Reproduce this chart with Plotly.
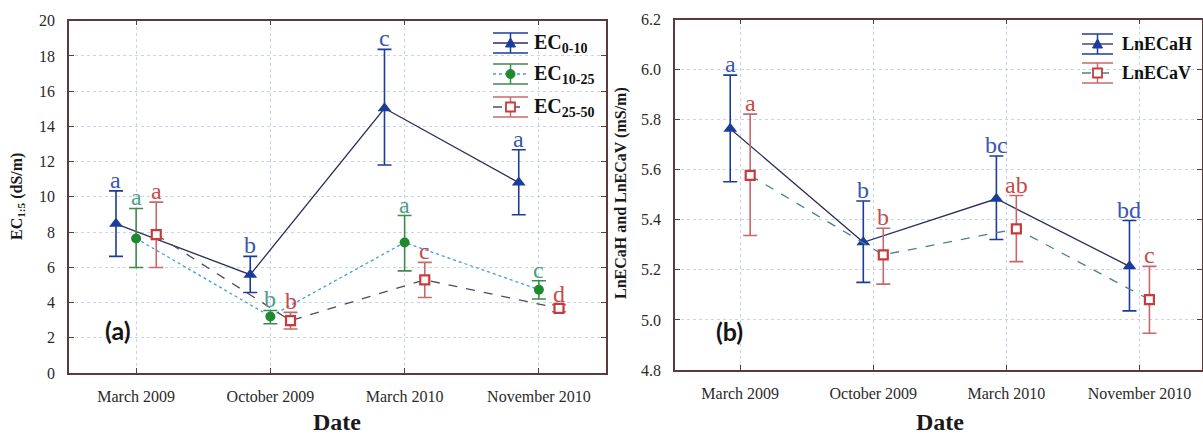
import plotly.graph_objects as go

W, H = 1203, 437

# ---------------- data ----------------
dates = ["March 2009", "October 2009", "March 2010", "November 2010"]

# Panel (a): EC1:5 (dS/m) by soil depth, mean with confidence interval bounds
ec_0_10 = [8.47, 5.58, 15.03, 10.81]
ec_0_10_hi = [10.34, 6.62, 18.37, 12.67]
ec_0_10_lo = [6.62, 4.57, 11.81, 8.98]
ec_0_10_grp = ["a", "b", "c", "a"]

ec_10_25 = [7.64, 3.21, 7.41, 4.73]
ec_10_25_hi = [9.34, 3.55, 8.94, 5.24]
ec_10_25_lo = [5.99, 2.80, 5.80, 4.20]
ec_10_25_grp = ["a", "b", "a", "c"]

ec_25_50 = [7.85, 2.97, 5.29, 3.67]
ec_25_50_hi = [9.70, 3.44, 6.28, 3.88]
ec_25_50_lo = [5.99, 2.50, 4.29, 3.48]
ec_25_50_grp = ["a", "b", "c", "d"]

# Panel (b): log apparent conductivity, horizontal and vertical modes
ln_ecah = [5.764, 5.310, 5.484, 5.214]
ln_ecah_hi = [5.978, 5.475, 5.655, 5.397]
ln_ecah_lo = [5.552, 5.150, 5.321, 5.036]
ln_ecah_grp = ["a", "b", "bc", "bd"]

ln_ecav = [5.577, 5.260, 5.364, 5.081]
ln_ecav_hi = [5.822, 5.366, 5.497, 5.214]
ln_ecav_lo = [5.337, 5.143, 5.233, 4.947]
ln_ecav_grp = ["a", "b", "ab", "c"]

# ---------------- styling ----------------
SERIF = "Liberation Serif, Times New Roman, serif"
FRAME = "#5a3a3a"
GRID = "#c6d4e4"

BLUE = "#1c3c9c"
BLUE_TXT = "#3a56b0"
NAVY = "#2b2d5c"
GREEN = "#1e8a2e"
GREEN_ERR = "#3f8a4c"
GREEN_TXT = "#4c9e8a"
SKY = "#3f9fd8"
RED = "#c63c3c"
RED_ERR = "#c86868"
RED_TXT = "#c84a4a"
DASH_A = "#4d4d60"
DASH_B = "#4f7f8f"

fig = go.Figure()
annotations = []
shapes = []


def add_series(xa, ya, offset, vals, hi, lo, groups, symbol, mcolor, mfill,
               msize, mline, lcolor, ldash, ecolor, tcolor):
    xs = [i + offset for i in range(len(vals))]
    fig.add_trace(go.Scatter(
        x=xs, y=vals, xaxis=xa, yaxis=ya, mode="lines+markers",
        line=dict(color=lcolor, width=1.3, dash=ldash),
        marker=dict(symbol=symbol, size=msize, color=mfill,
                    line=dict(color=mcolor, width=mline)),
        error_y=dict(type="data", symmetric=False,
                     array=[h - v for h, v in zip(hi, vals)],
                     arrayminus=[v - l for v, l in zip(vals, lo)],
                     color=ecolor, thickness=1.6, width=7),
        showlegend=False, hoverinfo="skip"))
    for x, h, g in zip(xs, hi, groups):
        annotations.append(dict(
            x=x, y=h, xref=xa, yref=ya, text=g, showarrow=False,
            yanchor="bottom", xanchor="center", yshift=-4,
            font=dict(family=SERIF, size=24, color=tcolor)))


# panel (a)
add_series("x", "y", -0.15, ec_0_10, ec_0_10_hi, ec_0_10_lo, ec_0_10_grp,
           "triangle-up", BLUE, BLUE, 12, 0, NAVY, "solid", BLUE, BLUE_TXT)
add_series("x", "y", 0.0, ec_10_25, ec_10_25_hi, ec_10_25_lo, ec_10_25_grp,
           "circle", GREEN, GREEN, 10, 0, SKY, "dot", GREEN_ERR, GREEN_TXT)
add_series("x", "y", 0.15, ec_25_50, ec_25_50_hi, ec_25_50_lo, ec_25_50_grp,
           "square", RED, "white", 9, 2.2, DASH_A, "dash", RED_ERR, RED_TXT)

# panel (b)
add_series("x2", "y2", -0.075, ln_ecah, ln_ecah_hi, ln_ecah_lo, ln_ecah_grp,
           "triangle-up", BLUE, BLUE, 12, 0, NAVY, "solid", BLUE, BLUE_TXT)
add_series("x2", "y2", 0.075, ln_ecav, ln_ecav_hi, ln_ecav_lo, ln_ecav_grp,
           "square", RED, "white", 9, 2.2, DASH_B, "dash", RED_ERR, RED_TXT)


def px(x, y):
    return x / W, 1 - y / H


def hline(x0, x1, y, color, width=1.5, dash="solid"):
    a, b = px(x0, y)
    c, _ = px(x1, y)
    shapes.append(dict(type="line", xref="paper", yref="paper",
                       x0=a, x1=c, y0=b, y1=b,
                       line=dict(color=color, width=width, dash=dash)))


def vline(x, y0, y1, color, width=1.5):
    a, b = px(x, y0)
    _, d = px(x, y1)
    shapes.append(dict(type="line", xref="paper", yref="paper",
                       x0=a, x1=a, y0=b, y1=d,
                       line=dict(color=color, width=width)))


def key_marker(kind, cx, cy, color, fill, r):
    if kind == "triangle":
        pts = [px(cx - r, cy + r * 0.8), px(cx + r, cy + r * 0.8), px(cx, cy - r)]
        path = "M {} {} L {} {} L {} {} Z".format(*[v for p in pts for v in p])
        shapes.append(dict(type="path", xref="paper", yref="paper", path=path,
                           fillcolor=color, line=dict(color=color, width=1)))
    else:
        a, b = px(cx - r, cy + r)
        c, d = px(cx + r, cy - r)
        shapes.append(dict(type="circle" if kind == "circle" else "rect",
                           xref="paper", yref="paper", x0=a, x1=c, y0=b, y1=d,
                           fillcolor=fill,
                           line=dict(color=color, width=1.8 if kind == "rect" else 1)))


def key_entry(x0, x1, cy, label, ecolor, lcolor, ldash, kind, mcolor, mfill, r, tx, fsize):
    cx = (x0 + x1) / 2
    hline(x0, x1, cy - 10, ecolor)
    hline(x0, x1, cy + 10, ecolor)
    vline(cx, cy - 10, cy + 10, ecolor)
    hline(x0, x1, cy, lcolor, 1.3, ldash)
    key_marker(kind, cx, cy, mcolor, mfill, r)
    tx_p, ty_p = px(tx, cy)
    annotations.append(dict(x=tx_p, y=ty_p, xref="paper", yref="paper",
                            text=label, showarrow=False, xanchor="left",
                            yanchor="middle",
                            font=dict(family=SERIF, size=fsize, color="#111111",
                                      weight="bold")))


# keys
key_entry(493, 528, 43, "EC<sub>0-10</sub>", BLUE, NAVY, "solid", "triangle", BLUE, BLUE, 5, 532, 20)
key_entry(493, 528, 74, "EC<sub>10-25</sub>", GREEN_ERR, SKY, "dot", "circle", GREEN, GREEN, 4.5, 532, 20)
key_entry(493, 528, 107, "EC<sub>25-50</sub>", RED_ERR, DASH_A, "dash", "rect", RED, "white", 4.5, 532, 20)
key_entry(1082, 1113, 44, "LnECaH", BLUE, NAVY, "solid", "triangle", BLUE, BLUE, 5, 1120, 18)
key_entry(1082, 1113, 73, "LnECaV", RED_ERR, DASH_B, "dash", "rect", RED, "white", 4.5, 1120, 18)

# panel tags on white patches
for (bx0, by0, bx1, by1, tag, tx, ty) in [(80, 300, 159, 353, "(a)", 118, 330),
                                           (692, 302, 788, 353, "(b)", 729, 331)]:
    a, b = px(bx0, by1)
    c, d = px(bx1, by0)
    shapes.append(dict(type="rect", xref="paper", yref="paper", x0=a, x1=c,
                       y0=b, y1=d, fillcolor="white", line=dict(width=0),
                       layer="below"))
    tx_p, ty_p = px(tx, ty)
    annotations.append(dict(x=tx_p, y=ty_p, xref="paper", yref="paper",
                            text=tag, showarrow=False, xanchor="center",
                            yanchor="middle",
                            font=dict(family="Lato, Open Sans, sans-serif",
                                      size=25, color="#151515", weight="bold")))

# axis titles (y titles rotated, x titles sitting on the bottom edge)
for (tx, ty, text, angle, size, yanc) in [
        (17, 197, "EC<sub>1:5</sub> (dS/m)", -90, 16, "middle"),
        (621, 193, "LnECaH and LnECaV (mS/m)", -90, 16, "middle"),
        (337, 436, "Date", 0, 24, "bottom"),
        (940, 436, "Date", 0, 24, "bottom")]:
    tx_p, ty_p = px(tx, ty)
    annotations.append(dict(x=tx_p, y=ty_p, xref="paper", yref="paper",
                            text=text, showarrow=False, textangle=angle,
                            xanchor="center", yanchor=yanc, borderpad=0,
                            font=dict(family=SERIF, size=size, color="#1a1a1a",
                                      weight="bold")))

tickfont = dict(family=SERIF, size=16, color="#2a2a2a")
common_x = dict(tickmode="array", tickvals=list(range(len(dates))), ticktext=dates,
                showline=True, linecolor=FRAME, linewidth=1.5, mirror="ticks",
                ticks="inside", ticklen=5, tickcolor=FRAME, tickwidth=1.2,
                showgrid=True, gridcolor=GRID, griddash="dot", gridwidth=1,
                zeroline=False, tickfont=tickfont, ticklabelstandoff=8,
                automargin=False, fixedrange=True)
common_y = dict(showline=True, linecolor=FRAME, linewidth=1.5, mirror="ticks",
                ticks="inside", ticklen=5, tickcolor=FRAME, tickwidth=1.2,
                showgrid=True, gridcolor=GRID, griddash="dot", gridwidth=1,
                zeroline=False, tickfont=tickfont, ticklabelstandoff=9,
                automargin=False, fixedrange=True)

fig.update_layout(
    width=W, height=H,
    margin=dict(l=0, r=0, t=0, b=0, autoexpand=False),
    paper_bgcolor="white", plot_bgcolor="white",
    showlegend=False,
    xaxis=dict(domain=[69 / W, 606 / W], range=[-0.5, 3.5], anchor="y", **common_x),
    yaxis=dict(domain=[1 - 373 / H, 1 - 20.7 / H], range=[0, 20], dtick=2,
               anchor="x", **common_y),
    xaxis2=dict(domain=[675 / W, 1202 / W], range=[-0.49, 3.47], anchor="y2", **common_x),
    yaxis2=dict(domain=[1 - 370 / H, 1 - 19.5 / H], range=[4.8, 6.2], dtick=0.2,
                tickformat=".1f", anchor="x2", **common_y),
    annotations=annotations,
    shapes=shapes,
)

fig.write_html("out.html")
